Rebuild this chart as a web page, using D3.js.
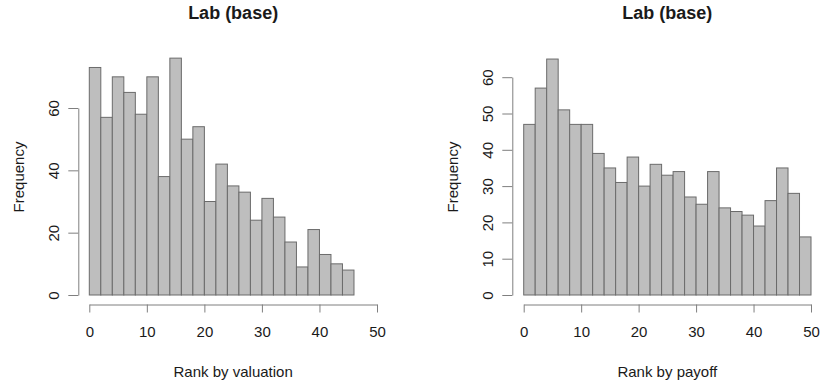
<!DOCTYPE html>
<html lang="en">
<head>
    <meta charset="UTF-8">
    <title>Lab (base) histograms</title>
    <script src="https://d3js.org/d3.v7.min.js"></script>
    <style>
        body {
            margin: 0;
            padding: 0;
            background-color: #fff;
            font-family: "Liberation Sans", Arial, sans-serif;
        }
        svg text {
            fill: #1a1a1a;
        }
    </style>
</head>
<body>
    <div id="chart"></div>

    <script>
        // Data (2-unit bins)
        const binWidth = 2;
        const valuationCounts = [73, 57, 70, 65, 58, 70, 38, 76, 50, 54, 30, 42, 35, 33, 24, 31, 25, 17, 9, 21, 13, 10, 8];
        const payoffCounts = [47, 57, 65, 51, 47, 47, 39, 35, 31, 38, 30, 36, 33, 34, 27, 25, 34, 24, 23, 22, 19, 26, 35, 28, 16];
        const xTicks = [0, 10, 20, 30, 40, 50];
        const valuationYTicks = [0, 20, 40, 60];
        const payoffYTicks = [0, 10, 20, 30, 40, 50, 60];

        const width = 820;
        const height = 383;

        const svg = d3.select("#chart")
            .append("svg")
            .attr("width", width)
            .attr("height", height);

        const panels = [
            {
                title: "Lab (base)",
                xLabel: "Rank by valuation",
                counts: valuationCounts,
                yTicks: valuationYTicks,
                xRange: [89.3, 377],
                yRange: [295, 108.0],
                yAxisX: 78.3
            },
            {
                title: "Lab (base)",
                xLabel: "Rank by payoff",
                counts: payoffCounts,
                yTicks: payoffYTicks,
                xRange: [523.7, 811],
                yRange: [295, 77.2],
                yAxisX: 512.3
            }
        ];

        const axisColor = "#7f7f7f";
        const plotMidY = 177; // vertical middle of the plot region

        panels.forEach(p => {
            const g = svg.append("g");

            const x = d3.scaleLinear().domain([0, 50]).range(p.xRange);
            const y = d3.scaleLinear().domain([0, 60]).range(p.yRange);

            const bins = p.counts.map((c, i) => ({ x0: i * binWidth, x1: (i + 1) * binWidth, count: c }));

            // bars
            g.selectAll("rect")
                .data(bins)
                .enter()
                .append("rect")
                .attr("x", d => x(d.x0))
                .attr("y", d => y(d.count))
                .attr("width", d => x(d.x1) - x(d.x0))
                .attr("height", d => y(0) - y(d.count))
                .attr("fill", "#bebebe")
                .attr("stroke", "#6b6b6b")
                .attr("stroke-width", 1);

            // x axis
            const xAxis = g.append("g")
                .attr("transform", "translate(0,304.5)")
                .call(d3.axisBottom(x).tickValues(xTicks).tickSize(8).tickSizeOuter(0).tickPadding(14));
            xAxis.select(".domain").attr("stroke", axisColor);
            xAxis.selectAll(".tick line").attr("stroke", axisColor);
            xAxis.selectAll("text")
                .attr("font-size", "15px")
                .attr("font-family", "'Liberation Sans', Arial, sans-serif")
                .attr("fill", "#1a1a1a");

            // y axis
            const yAxis = g.append("g")
                .attr("transform", `translate(${p.yAxisX},0)`)
                .call(d3.axisLeft(y).tickValues(p.yTicks).tickSize(10).tickSizeOuter(0));
            yAxis.select(".domain").attr("stroke", axisColor);
            yAxis.selectAll(".tick line").attr("stroke", axisColor);
            yAxis.selectAll(".tick text").remove();
            yAxis.selectAll(".tick")
                .append("text")
                .attr("transform", "translate(-25,0) rotate(-90)")
                .attr("text-anchor", "middle")
                .attr("dy", "0.35em")
                .attr("font-size", "15px")
                .attr("font-family", "'Liberation Sans', Arial, sans-serif")
                .attr("fill", "#1a1a1a")
                .text(d => d);

            // title
            const midX = (x(0) + x(50)) / 2;
            g.append("text")
                .attr("x", midX)
                .attr("y", 19)
                .attr("text-anchor", "middle")
                .attr("font-size", "18px")
                .attr("font-weight", "bold")
                .text(p.title);

            // x label
            g.append("text")
                .attr("x", midX)
                .attr("y", 377)
                .attr("text-anchor", "middle")
                .attr("font-size", "15px")
                .text(p.xLabel);

            // y label
            g.append("text")
                .attr("transform", `translate(${p.yAxisX - 60},${plotMidY}) rotate(-90)`)
                .attr("text-anchor", "middle")
                .attr("dy", "0.35em")
                .attr("font-size", "15px")
                .text("Frequency");
        });
    </script>
</body>
</html>
